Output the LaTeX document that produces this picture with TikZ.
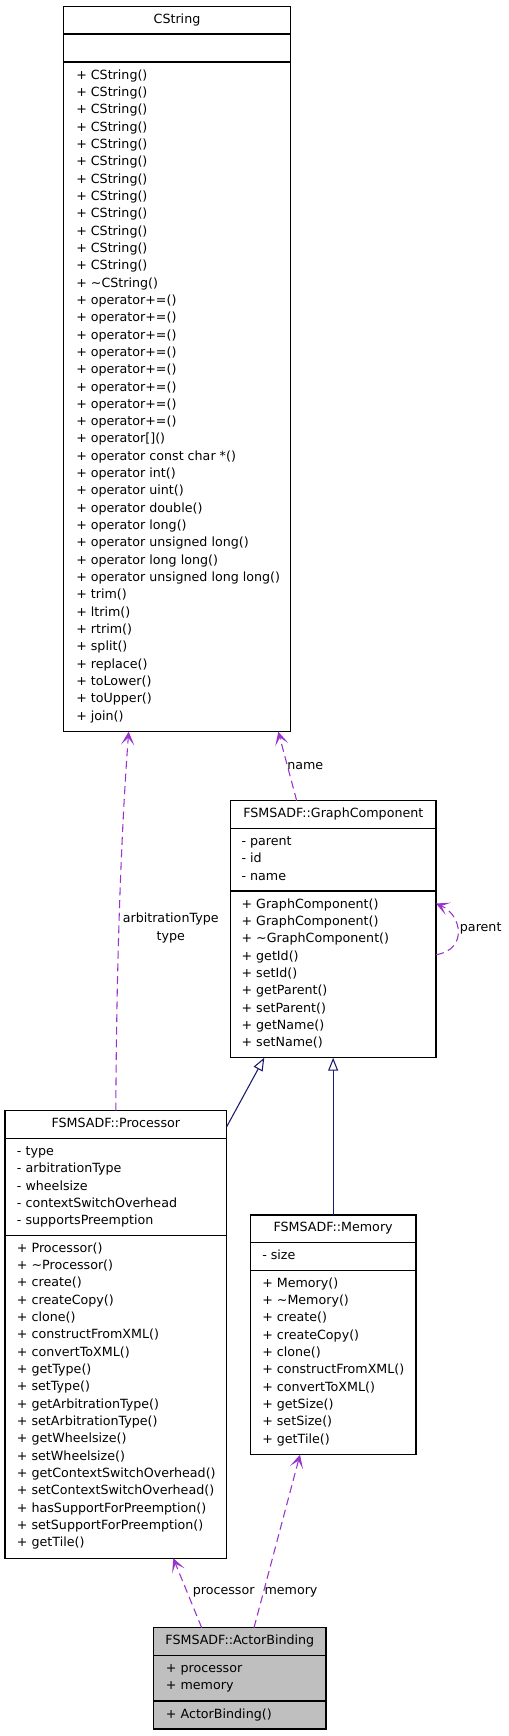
\documentclass[tikz,border=0pt]{standalone}
\usepackage{fontspec}
\setmainfont{DejaVu Sans}
\usetikzlibrary{arrows.meta,fit,calc}
\definecolor{depc}{HTML}{9A32CD}
\definecolor{inhc}{HTML}{191970}
\definecolor{abfill}{HTML}{BFBFBF}
\newcommand\rowfont{\fontsize{9.5pt}{12.99pt}\selectfont}
\newcommand\rows[4]{%
  \foreach \t [count=\i from 0] in {#4}
    \node[row] (#3\i) at ({#1},{#2+3.95+\i*17.32}) {\t};}
\begin{document}
\begin{tikzpicture}[x=0.75pt,y=-0.75pt,
  umlbox/.style={draw=black, line width=0.8pt, inner sep=0pt, outer sep=0pt, fill=white},
  row/.style={anchor=base west, inner sep=0pt, font=\rowfont},
  titletext/.style={anchor=base, inner sep=0pt, font=\rowfont},
  sepline/.style={draw=black, line width=0.8pt},
  lbl/.style={inner sep=0pt, font=\rowfont, align=center},
  dep/.style={draw=depc, line width=0.8pt, dash pattern=on 6pt off 3.5pt,
    -{Stealth[length=10pt, width=10pt, inset=5.5pt]}},
  inh/.style={draw=inhc, line width=0.8pt,
    -{Triangle[open, length=9.75pt, width=7.5pt, fill=white]}}]
\useasboundingbox (0,0) rectangle (508,1736);
\fill[white] (0,0) rectangle (508,1736);

% ---------- CString ----------
\node[umlbox, fit={(63.5,6.5) (290.5,731.7)}] (cs) {};
\draw[sepline] (63.5,34) -- (290.5,34);
\draw[sepline] (63.5,62) -- (290.5,62);
\node[titletext] (cst) at (177,23.7) {CString};
\rows{76}{75.3}{csm}{+ CString(),+ CString(),+ CString(),+ CString(),+ CString(),+ CString(),+ CString(),+ CString(),+ CString(),+ CString(),+ CString(),+ CString(),+ \textasciitilde CString(),+ operator+=(),+ operator+=(),+ operator+=(),+ operator+=(),+ operator+=(),+ operator+=(),+ operator+=(),+ operator+=(),{+ operator[]()},+ operator const char *(),+ operator int(),+ operator uint(),+ operator double(),+ operator long(),+ operator unsigned long(),+ operator long long(),+ operator unsigned long long(),+ trim(),+ ltrim(),+ rtrim(),+ split(),+ replace(),+ toLower(),+ toUpper(),+ join()}

% ---------- GraphComponent ----------
\node[umlbox, fit={(230.7,800.7) (436,1057.7)}] (gc) {};
\draw[sepline] (230.7,828.3) -- (436,828.3);
\draw[sepline] (230.7,891) -- (436,891);
\node[titletext] (gct) at (333.35,817) {FSMSADF::GraphComponent};
\rows{241.3}{841.7}{gca}{- parent,- id,- name}
\rows{241.3}{904.3}{gcm}{+ GraphComponent(),+ GraphComponent(),+ \textasciitilde GraphComponent(),+ getId(),+ setId(),+ getParent(),+ setParent(),+ getName(),+ setName()}

% ---------- Processor ----------
\node[umlbox, fit={(5,1110.7) (226.7,1558.3)}] (proc) {};
\draw[sepline] (5,1138.3) -- (226.7,1138.3);
\draw[sepline] (5,1235.7) -- (226.7,1235.7);
\node[titletext] (proct) at (115.85,1127.7) {FSMSADF::Processor};
\rows{16.7}{1151.7}{pra}{- type,- arbitrationType,- wheelsize,- contextSwitchOverhead,- supportsPreemption}
\rows{16.7}{1248.3}{prm}{+ Processor(),+ \textasciitilde Processor(),+ create(),+ createCopy(),+ clone(),+ constructFromXML(),+ convertToXML(),+ getType(),+ setType(),+ getArbitrationType(),+ setArbitrationType(),+ getWheelsize(),+ setWheelsize(),+ getContextSwitchOverhead(),+ setContextSwitchOverhead(),+ hasSupportForPreemption(),+ setSupportForPreemption(),+ getTile()}

% ---------- Memory ----------
\node[umlbox, fit={(250.3,1215) (416,1454.7)}] (mem) {};
\draw[sepline] (250.3,1242.3) -- (416,1242.3);
\draw[sepline] (250.3,1270.7) -- (416,1270.7);
\node[titletext] (memt) at (333.15,1231.7) {FSMSADF::Memory};
\rows{262}{1255.7}{mea}{- size}
\rows{262}{1283.3}{mem}{+ Memory(),+ \textasciitilde Memory(),+ create(),+ createCopy(),+ clone(),+ constructFromXML(),+ convertToXML(),+ getSize(),+ setSize(),+ getTile()}

% ---------- ActorBinding ----------
\node[umlbox, fill=abfill, fit={(153.7,1627.7) (326,1729)}] (ab) {};
\draw[sepline] (153.7,1655.7) -- (326,1655.7);
\draw[sepline] (153.7,1701) -- (326,1701);
\node[titletext] (abt) at (239.85,1644.3) {FSMSADF::ActorBinding};
\rows{165.7}{1668.7}{aba}{+ processor,+ memory}
\rows{165.7}{1714.3}{abm}{+ ActorBinding()}

% ---------- connectors ----------
\draw[dep] (proc.north) .. controls ($(proc.north)+(0.6,-160)$) and ($(cs.south west)+(58.5,88)$) .. ($(cs.south west)+(65.2,0)$);
\node[lbl] (l1) at (170.7,928) {arbitrationType\\type};

\draw[dep] ($(gc.north west)+(66,0)$) -- ($(cs.south west)+(214.8,0)$);
\node[lbl] (l2) at (305.3,765.7) {name};

\draw[dep] ($(gc.north east)+(0,154)$) .. controls +(32,-5) and ($(gc.north east)+(26,114)$) .. ($(gc.north east)+(0,102.8)$);
\node[lbl] (l3) at (480.7,928.7) {parent};

\draw[inh] ($(proc.north east)+(0,16)$) -- ($(gc.south west)+(33.6,0)$);
\draw[inh] (mem.north) -- (mem.north |- gc.south);

\draw[dep] ($(ab.north west)+(48,0)$) -- ($(proc.south west)+(168.3,0)$);
\node[lbl] (l4) at (223.7,1592.7) {processor};

\draw[dep] ($(ab.north west)+(100.3,0)$) -- ($(mem.south west)+(49.7,0)$);
\node[lbl] (l5) at (291,1592.7) {memory};
\end{tikzpicture}
\end{document}
